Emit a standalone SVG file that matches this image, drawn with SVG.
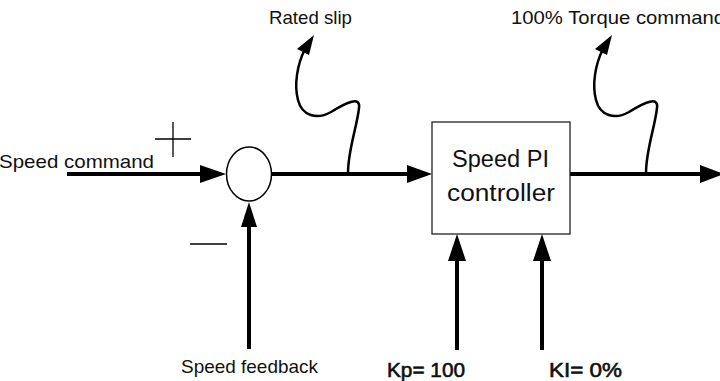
<svg xmlns="http://www.w3.org/2000/svg" width="720" height="381" viewBox="0 0 720 381">
<style>
.t{font-family:"Liberation Sans",Arial,sans-serif;font-size:19px;fill:#111}
.tb{font-family:"Liberation Sans",Arial,sans-serif;font-size:20px;fill:#111;stroke:#111;stroke-width:0.6}
.tc{font-family:"Liberation Sans",Arial,sans-serif;font-size:23px;fill:#111}
.w{fill:none;stroke:#000;stroke-width:4}
.thin{fill:none;stroke:#000;stroke-width:1.3}
.wave{fill:none;stroke:#000;stroke-width:2.5;stroke-linecap:round}
.ah{fill:#000}
</style>
<defs>
<g id="wavy">
<path class="wave" d="M348,173 C348,150 357,127 359,108 C361,96 347,102 331,112 C317,120 302,116 298,100 C294,85 297,65 305,49"/>
<polygon class="ah" points="314,35 297,49 309,55"/>
</g>
</defs>
<rect width="720" height="381" fill="#fff"/>
<g id="connectors">
<line class="w" x1="67" y1="174" x2="202" y2="174"/>
<polygon class="ah" points="226,174 200,165 200,183"/>
<line class="w" x1="272" y1="174" x2="409" y2="174"/>
<polygon class="ah" points="432,174 407,165 407,183"/>
<line class="w" x1="570" y1="174" x2="702" y2="174"/>
<polygon class="ah" points="724,174 700,165 700,183"/>
<line class="w" x1="249" y1="349" x2="249" y2="225"/>
<polygon class="ah" points="249,202 241,227 257,227"/>
<line class="w" x1="457" y1="350" x2="457" y2="259"/>
<polygon class="ah" points="457,234 448,261 466,261"/>
<line class="w" x1="542" y1="350" x2="542" y2="259"/>
<polygon class="ah" points="542,234 533,261 551,261"/>
<use href="#wavy"/>
<use href="#wavy" transform="translate(298,0)"/>
</g>
<g id="sum">
<ellipse cx="249" cy="174" rx="22.5" ry="27" fill="#fff" stroke="#000" stroke-width="1.5"/>
<line class="thin" x1="155" y1="139" x2="191" y2="139"/>
<line class="thin" x1="173" y1="122" x2="173" y2="157"/>
<line class="thin" x1="190" y1="244" x2="227" y2="244"/>
</g>
<g id="controller">
<rect x="432" y="122" width="138" height="112" fill="#fff" stroke="#222" stroke-width="1.3"/>
<text class="tc" x="452" y="167" textLength="97" lengthAdjust="spacingAndGlyphs">Speed PI</text>
<text class="tc" x="447" y="201" textLength="108" lengthAdjust="spacingAndGlyphs">controller</text>
</g>
<g id="labels">
<text class="t" x="-1" y="168" textLength="155" lengthAdjust="spacingAndGlyphs">Speed command</text>
<text class="t" x="269" y="24" textLength="83" lengthAdjust="spacingAndGlyphs">Rated slip</text>
<text class="t" x="511" y="24" textLength="214" lengthAdjust="spacingAndGlyphs">100% Torque command</text>
<text class="t" x="181" y="373" textLength="137" lengthAdjust="spacingAndGlyphs">Speed feedback</text>
<text class="tb" x="387" y="377" textLength="78" lengthAdjust="spacingAndGlyphs">Kp= 100</text>
<text class="tb" x="549" y="377" textLength="73" lengthAdjust="spacingAndGlyphs">KI= 0%</text>
</g>
</svg>
